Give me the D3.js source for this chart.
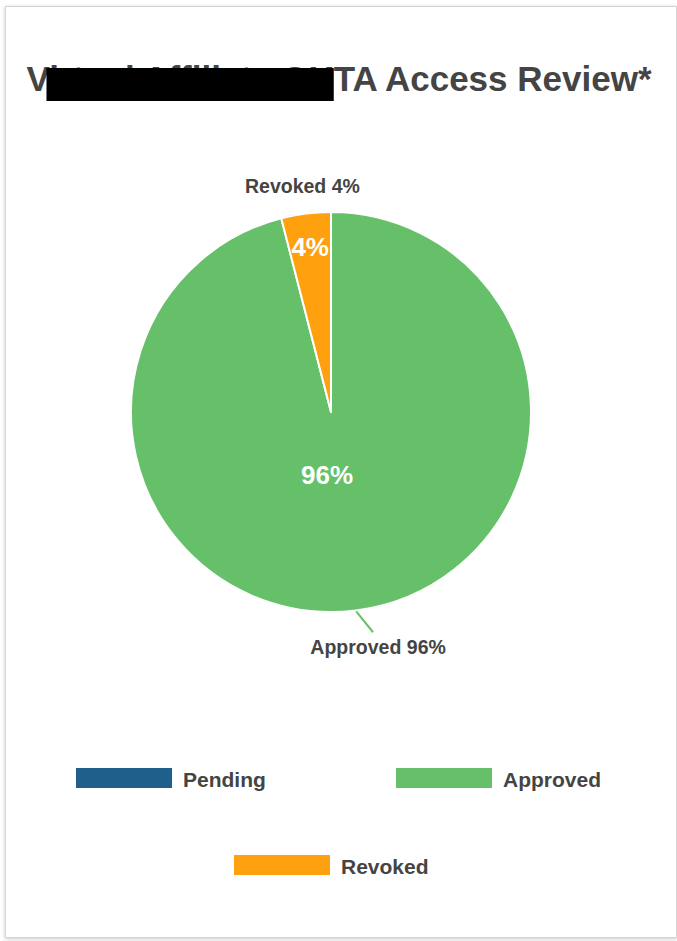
<!DOCTYPE html>
<html>
<head>
<meta charset="utf-8">
<script src="https://cdn.jsdelivr.net/npm/d3@7"></script>
<style>
  html, body { margin: 0; padding: 0; background: #fff; }
  body { width: 677px; height: 941px; position: relative; overflow: hidden; font-family: "Liberation Sans", Arial, Helvetica, sans-serif; }
  .card { position: absolute; left: 5px; top: 6px; width: 670px; height: 930px; border: 1px solid #d6d6d6; box-shadow: 0 1px 4px rgba(0,0,0,0.22); background: #fff; }
  svg { position: absolute; left: 0; top: 0; }
</style>
</head>
<body>
<div class="card"></div>
<svg id="chart" width="677" height="941"></svg>
<script>
// ---- data ----
const categories = ["Pending", "Approved", "Revoked"];
const values = [0, 96, 4];
const colors = ["#1f5f8b", "#66bf69", "#ffa00f"];
const titleText = "Virtual Affiliate OKTA Access Review*";
const redactedEnd = 20; // index of first visible character after the black bar

// ---- layout ----
const cx = 331, cy = 412, R = 200;
const textColor = "#444444";
const svg = d3.select("#chart");

// title
const title = svg.append("text")
  .attr("x", 339).attr("y", 91)
  .attr("text-anchor", "middle")
  .attr("font-size", 35).attr("font-weight", "bold")
  .attr("fill", textColor)
  .text(titleText);
const tnode = title.node();
const textStart = tnode.getStartPositionOfChar(0).x;
const endHidden = tnode.getStartPositionOfChar(redactedEnd).x;
svg.append("rect")
  .attr("x", textStart + 20).attr("y", 68)
  .attr("width", endHidden - textStart - 20).attr("height", 33)
  .attr("fill", "#000");

// pie
const data = categories.map((c, i) => ({ name: c, value: values[i], color: colors[i] }));
const total = d3.sum(values);
const pie = d3.pie().sort(null).value(d => d.value);
const arcs = pie(data);
const arc = d3.arc().innerRadius(0).outerRadius(R);
const fmt = v => Math.round(v / total * 100) + "%";

const g = svg.append("g").attr("transform", `translate(${cx},${cy})`);
g.selectAll("path.slice")
  .data(arcs.filter(a => a.value > 0))
  .join("path")
  .attr("class", "slice")
  .attr("d", arc)
  .attr("fill", d => d.data.color)
  .attr("stroke", "#fff")
  .attr("stroke-width", 2)
  .attr("stroke-linejoin", "round");

// inner percentage labels
g.selectAll("text.inner")
  .data(arcs.filter(a => a.value > 0))
  .join("text")
  .attr("class", "inner")
  .each(function (d) {
    const mid = (d.startAngle + d.endAngle) / 2;
    const frac = d.value / total;
    const rr = frac < 0.1 ? R * 0.83 : R * 0.32;
    let x = Math.sin(mid) * rr, y = -Math.cos(mid) * rr;
    if (frac >= 0.1) x = Math.sin(Math.PI) * rr - 4;
    d3.select(this).attr("x", x).attr("y", y + 9);
  })
  .attr("text-anchor", "middle")
  .attr("font-size", 26).attr("font-weight", "bold")
  .attr("fill", "#fff")
  .text(d => fmt(d.value));

// outer labels with connectors
arcs.filter(a => a.value > 0).forEach(d => {
  const mid = (d.startAngle + d.endAngle) / 2;
  const sx = Math.sin(mid), sy = -Math.cos(mid);
  let lx, ly;
  if (sy > 0) {
    const p0 = [sx * (R + 1), sy * (R + 1)];
    const p1 = [sx * 224 + 14, sy * 222];
    g.append("line")
      .attr("x1", p0[0]).attr("y1", p0[1])
      .attr("x2", p1[0]).attr("y2", p1[1])
      .attr("stroke", d.data.color).attr("stroke-width", 2);
    lx = p1[0] + 5; ly = p1[1] + 22;
  } else {
    lx = sx * 228; ly = sy * 228 + 7;
  }
  g.append("text")
    .attr("x", lx).attr("y", ly)
    .attr("text-anchor", "middle")
    .attr("font-size", 19.5).attr("font-weight", "bold")
    .attr("fill", textColor)
    .text(`${d.data.name} ${fmt(d.value)}`);
});

// legend
const legendPos = [[76, 768], [396, 768], [234, 855]];
const lg = svg.append("g");
data.forEach((d, i) => {
  const [x, y] = legendPos[i];
  lg.append("rect").attr("x", x).attr("y", y).attr("width", 96).attr("height", 20).attr("fill", d.color);
  lg.append("text").attr("x", x + 107).attr("y", y + 18.5)
    .attr("font-size", 21).attr("font-weight", "bold").attr("fill", textColor)
    .text(d.name);
});
</script>
</body>
</html>
